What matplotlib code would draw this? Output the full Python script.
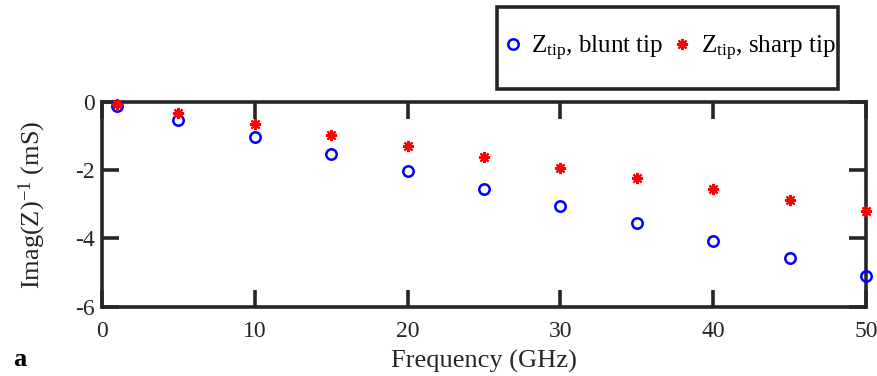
import matplotlib
matplotlib.use("Agg")
import matplotlib.pyplot as plt
from matplotlib.patches import Rectangle

freq = [1, 5, 10, 15, 20, 25, 30, 35, 40, 45, 50]
blunt = [-0.12, -0.52, -1.02, -1.52, -2.03, -2.54, -3.06, -3.56, -4.06, -4.58, -5.09]
sharp = [-0.07, -0.31, -0.63, -0.96, -1.28, -1.60, -1.92, -2.24, -2.56, -2.88, -3.20]
xticks = [0, 10, 20, 30, 40, 50]
yticks = [0, -2, -4, -6]

plt.rcParams['font.family'] = ['Liberation Serif', 'DejaVu Serif']
plt.rcParams['mathtext.fontset'] = 'custom'
plt.rcParams['mathtext.rm'] = 'Liberation Serif'
plt.rcParams['mathtext.it'] = 'Liberation Serif:italic'
plt.rcParams['axes.unicode_minus'] = False

dark = '#262626'
fig = plt.figure(figsize=(8.77, 3.76), dpi=100)
ax = fig.add_axes([0.1163, 0.1843, 0.8712, 0.5444])

ax.plot(freq, blunt, linestyle='none', marker='o', markersize=7.5, markerfacecolor='none',
        markeredgecolor='#0000ff', markeredgewidth=1.8, label='Z$_{\\mathrm{tip}}$, blunt tip',
        clip_on=False, zorder=3)
ax.plot(freq, sharp, linestyle='none', marker=(8, 2, 0), markersize=8,
        markeredgecolor='#ff0000', markerfacecolor='#ff0000', markeredgewidth=1.5,
        label='Z$_{\\mathrm{tip}}$, sharp tip', clip_on=False, zorder=4)

ax.set_xlim(0, 50)
ax.set_ylim(-6, 0)
ax.set_xticks(xticks)
ax.set_yticks(yticks)
ax.set_xticklabels([str(v) for v in xticks])
ax.set_yticklabels([str(v) for v in yticks])
for s in ax.spines.values():
    s.set_linewidth(2.6)
    s.set_color(dark)
ax.tick_params(direction='in', length=12, width=2.6, top=True, right=True,
               labelsize=17, colors=dark)
ax.tick_params(axis='x', pad=10)
ax.tick_params(axis='y', pad=5)
ax.set_xlabel('Frequency (GHz)', fontsize=19, color=dark, labelpad=6)
ax.set_ylabel('Imag(Z)$^{-1}$ (mS)', fontsize=19, color=dark, labelpad=20)

fig.text(0.015, 0.027, 'a', fontsize=19, fontweight='bold', color='black')

# legend box
fig.patches.append(Rectangle((0.5667, 0.7633), 0.3888, 0.2181, transform=fig.transFigure,
                             fill=True, facecolor='white', edgecolor=dark, linewidth=2.6,
                             zorder=1))
leg = fig.legend(loc='center', bbox_to_anchor=(0.764, 0.872), ncol=2, fontsize=18,
                 frameon=False, handlelength=0.7, handletextpad=0.4, columnspacing=0.4,
                 borderpad=0.2, borderaxespad=0)
leg.set_zorder(5)
for t in leg.get_texts():
    t.set_color('black')

fig.savefig('out.png', dpi=100)
